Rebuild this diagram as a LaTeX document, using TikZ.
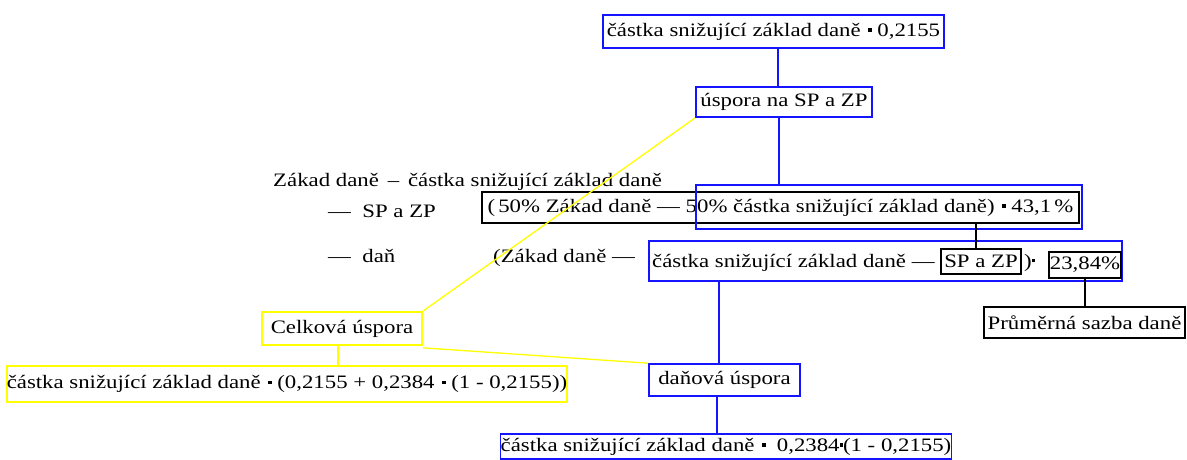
\documentclass[tikz,border=0pt]{standalone}
\usepackage{fontspec}
\setmainfont{Liberation Serif}[FakeStretch=1.2]
\definecolor{bblue}{RGB}{20,20,255}
\definecolor{yyel}{RGB}{255,255,0}
\newcommand\bdot{\hspace{0.1em}\rule[0.24em]{0.18em}{0.18em}\hspace{0.3em}}
\newcommand\sdot{\rule[0.24em]{0.18em}{0.18em}}
\begin{document}
\begin{tikzpicture}[x=1pt,y=-1pt,
  every node/.style={font=\fontsize{19}{22}\selectfont, inner sep=0pt},
  bbox/.style={draw=bblue, line width=1.6pt, minimum width=#1},
  kbox/.style={draw=black, line width=1.4pt, minimum width=#1},
  ybox/.style={draw=yyel, line width=1.6pt, minimum width=#1},
  bline/.style={draw=bblue, line width=1.6pt},
  kline/.style={draw=black, line width=1.3pt},
  yline/.style={draw=yyel, line width=1.3pt},
  plain/.style={anchor=base west}]
\useasboundingbox (0,0) rectangle (1187,459);
% blue chain
\node[bbox=341pt, minimum height=33pt] (top) at (773.5,31.5) {částka snižující základ daně \bdot{}0,2155};
\node[bbox=176pt, minimum height=30pt] (usp) at (784,102) {úspora na SP a ZP};
% black formula box and blue highlight
\node[kbox=597pt, minimum height=31pt] (f1) at (780.5,207.5) {(\,50\%\ Zákad daně — 50\% částka snižující základ daně) \bdot{}43,1\,\%};
\node[bbox=386pt, minimum height=44pt] (hl1) at (889,207) {};
% second formula
\node[bbox=473pt, minimum height=40pt] (hl2) at (885.5,261) {};
\node[plain] (t2a) at (652,267) {částka snižující základ daně —};
\node[kbox=80pt, minimum height=25pt] (spzp) at (981,261.5) {SP a ZP};
\node[plain] (t2b) at (1024,267) {)\sdot};
\node[kbox=72pt, minimum height=26pt] (sazba) at (1085,265) {23,84\%};
\node[plain] (t2c) at (493,262) {(Zákad daně —};
\node[kbox=201pt, minimum height=31pt] (prum) at (1084.5,322.5) {Průměrná sazba daně};
% left text
\node[plain] (l1) at (273,186) {Zákad daně \,–\, částka snižující základ daně};
\node[plain] (l2) at (328,217) {—\ \ SP a ZP};
\node[plain] (l3) at (328,262) {—\ \ daň};
% tax saving
\node[bbox=151pt, minimum height=32pt] (dan) at (724.5,380) {daňová úspora};
\node[bbox=446pt, minimum height=25pt] (bot) at (726,446.5) {částka snižující základ daně \bdot\ 0,2384\sdot(1 - 0,2155)};
% yellow
\node[ybox=160pt, minimum height=33pt] (celk) at (342,328.5) {Celková úspora};
\node[ybox=560pt, minimum height=36pt] (ybot) at (287,384) {částka snižující základ daně \bdot{}(0,2155 + 0,2384 \bdot{}(1 - 0,2155))};
% connectors
\draw[bline] ([xshift=4.5pt]top.south) -- ([xshift=-6pt]usp.north);
\draw[bline] ([xshift=-5pt]usp.south) -- ([xshift=-5pt]usp.south |- hl1.north);
\draw[kline] ([xshift=195.5pt]f1.south) -- ([xshift=-5pt]spzp.north);
\draw[kline] (sazba.south) -- (sazba.south |- prum.north);
\draw[bline] ([xshift=-166.5pt]hl2.south) -- ([xshift=-5.5pt]dan.north);
\draw[bline] ([xshift=-7.5pt]dan.south) -- ([xshift=-9pt]bot.north);
\draw[yline] (celk.north east) -- (usp.south west);
\draw[yline] ([yshift=-2pt]celk.south east) -- (dan.north west);
\draw[yline] ([xshift=-4pt]celk.south) -- ([xshift=-4pt]celk.south |- ybot.north);
\end{tikzpicture}
\end{document}
